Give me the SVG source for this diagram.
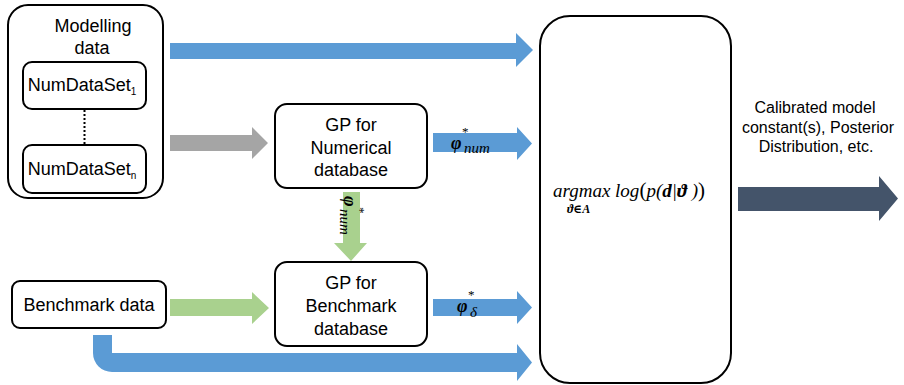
<svg xmlns="http://www.w3.org/2000/svg" width="904" height="385" viewBox="0 0 904 385">
  <style>
    .box { fill: #ffffff; stroke: #000000; stroke-width: 2; }
    .lbl { font-family: "Liberation Sans", Arial, sans-serif; font-size: 18px; fill: #000000; text-anchor: middle; }
    .out { font-size: 16px; }
    .math { font-family: "Liberation Serif", "DejaVu Serif", serif; font-style: italic; fill: #000000; }
    .phi { font-size: 18px; font-weight: bold; }
    .star { font-size: 13px; font-style: normal; }
    .sub { font-size: 15px; }
    .blue { fill: #5B9BD5; }
    .gray { fill: #A5A5A5; }
    .green { fill: #A9D18E; }
    .dark { fill: #44546A; }
  </style>
  <rect width="904" height="385" fill="#ffffff"/>

  <g id="connectors">
    <!-- modelling data straight to the optimiser -->
    <path class="blue" d="M170,43 H516 V33 L533,50 L516,67 V59 H170 Z"/>
    <!-- modelling data into numerical GP -->
    <path class="gray" d="M170,135 H252 V127 L268,143 L252,159 V151 H170 Z"/>
    <!-- numerical GP hyperparameters out -->
    <path class="blue" d="M433,133 H517 V127 L532,143.5 L517,160 V152 H433 Z"/>
    <!-- numerical GP feeds benchmark GP -->
    <path class="green" d="M343,192 H360 V243 H367 L351,261 L334,243 H343 Z"/>
    <!-- benchmark data into benchmark GP -->
    <path class="green" d="M170,299 H252 V292 L269,308 L252,324 V316 H170 Z"/>
    <!-- benchmark GP hyperparameters out -->
    <path class="blue" d="M433,299 H517 V291 L532,307.5 L517,324 V316 H433 Z"/>
    <!-- benchmark data straight to the optimiser -->
    <path class="blue" d="M93,335 H112 V353 H517 V344 L532,362.5 L517,381 V372 H112 A19,19 0 0 1 93,353 Z"/>
    <!-- result out -->
    <path class="dark" d="M738,187 H879 V176 L898,198.5 L879,221 V211 H738 Z"/>

    <!-- connector labels -->
    <text class="math phi" x="451" y="149">φ</text>
    <text class="math star" x="462" y="136">*</text>
    <text class="math sub" x="464" y="153">num</text>

    <text class="math phi" x="457" y="312">φ</text>
    <text class="math star" x="468" y="299">*</text>
    <text class="math sub" x="470" y="317">δ</text>

    <g transform="translate(344,196) rotate(90)">
      <text class="math phi" x="0" y="0">φ</text>
      <text class="math star" x="11" y="-12">*</text>
      <text class="math sub" x="13" y="4">num</text>
    </g>

    <text class="lbl out" x="815" y="113">Calibrated model</text>
    <text class="lbl out" x="818" y="133">constant(s), Posterior</text>
    <text class="lbl out" x="816" y="152">Distribution, etc.</text>
  </g>

  <g id="modelling-data">
    <rect class="box" x="8" y="5" width="155" height="193" rx="20"/>
    <text class="lbl" x="93" y="32">Modelling</text>
    <text class="lbl" x="92" y="54">data</text>
  </g>
  <g id="numdataset-1">
    <rect class="box" x="23" y="62" width="123" height="47" rx="9"/>
    <text class="lbl" x="82" y="91">NumDataSet<tspan dy="4" font-size="10">1</tspan></text>
  </g>
  <line x1="84.5" y1="110" x2="84.5" y2="145" stroke="#000000" stroke-width="2" stroke-dasharray="2,2"/>
  <g id="numdataset-n">
    <rect class="box" x="23" y="145" width="123" height="48" rx="9"/>
    <text class="lbl" x="82" y="175">NumDataSet<tspan dy="4" font-size="10">n</tspan></text>
  </g>

  <g id="benchmark-data">
    <rect class="box" x="12" y="281" width="154" height="47" rx="8"/>
    <text class="lbl" x="89" y="311">Benchmark data</text>
  </g>

  <g id="gp-numerical">
    <rect class="box" x="275" y="104" width="152" height="84" rx="12"/>
    <text class="lbl" x="351" y="131">GP for</text>
    <text class="lbl" x="351" y="154">Numerical</text>
    <text class="lbl" x="351" y="176">database</text>
  </g>

  <g id="gp-benchmark">
    <rect class="box" x="275" y="262" width="152" height="84" rx="12"/>
    <text class="lbl" x="351" y="289">GP for</text>
    <text class="lbl" x="351" y="312">Benchmark</text>
    <text class="lbl" x="351" y="335">database</text>
  </g>

  <g id="optimiser">
    <rect class="box" x="540" y="16" width="191" height="367" rx="30"/>
    <text class="math" x="553" y="197" font-size="19">argmax log<tspan font-style="normal" font-size="21">(</tspan>p(<tspan font-weight="bold">d</tspan>|<tspan font-weight="bold">ϑ</tspan> )<tspan font-style="normal" font-size="21">)</tspan></text>
    <text class="math" x="567" y="213" font-size="12" font-weight="bold">ϑ∈A</text>
  </g>
</svg>
